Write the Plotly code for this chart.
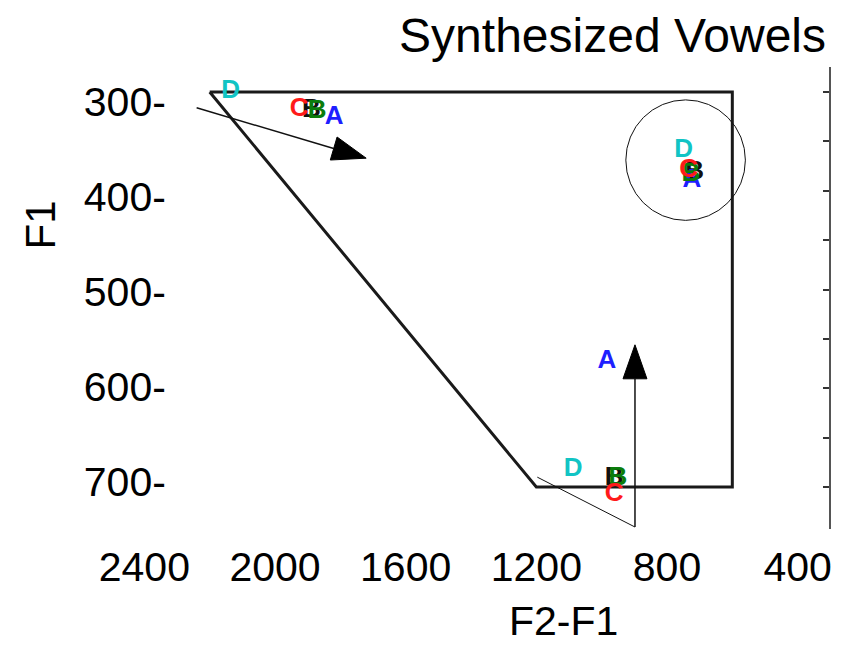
import math
import plotly.graph_objects as go

# ---------------- data ----------------
series_names = ["E", "A", "B", "C", "D"]
series_text = ["B", "A", "B", "C", "D"]
series_colors = ["#111111", "#1f1fff", "#0b7d0b", "#ff1a1a", "#11c4c4"]
# F2-F1 / F1 values (three vowel clusters each)
x_E = [1889, 715, 962]
y_E = [319, 382, 691]
x_A = [1819, 724, 984]
y_A = [326, 390, 573]
x_B = [1871, 727, 950]
y_B = [320, 384, 691]
x_C = [1926, 734, 962]
y_C = [318, 379, 708]
x_D = [2136, 749, 1087]
y_D = [300, 359, 682]
xs = [x_E, x_A, x_B, x_C, x_D]
ys = [y_E, y_A, y_B, y_C, y_D]

# vowel space outline
poly_x = [2200, 600, 600, 1200, 2200]
poly_y = [300, 300, 700, 700, 300]

# circle around cluster
circle_x = [560, 926]
circle_y = [308, 430]

# arrows (start -> tip)
arrow_start_x = [2240, 898]
arrow_start_y = [316, 740.5]
arrow_tip_x = [1721, 898]
arrow_tip_y = [367, 556]

# thin guide line
guide_x = [1197, 898]
guide_y = [690, 740.5]

x_tick_vals = [2400, 2000, 1600, 1200, 800, 400]
x_tick_text = ["2400", "2000", "1600", "1200", "800", "400"]
y_tick_vals = [300, 400, 500, 600, 700]
y_tick_text = ["300-", "400-", "500-", "600-", "700-"]

# ---------------- layout geometry ----------------
OFF = 8                      # page body margin
W, H = 843 - 2 * OFF, 648 - 2 * OFF
PL, PR, PT, PB = 130, 832, 67, 529   # plot area edges in page pixels
ML, MR, MT, MB = PL - OFF, W - (PR - OFF), PT - OFF, H - (PB - OFF)
X_RANGE = [2444, 304]
Y_RANGE = [742.5, 274.7]
Y_LABEL_RANGE = [749.5, 263.2]
pw = W - ML - MR
ph = H - MT - MB
sx = pw / (X_RANGE[0] - X_RANGE[1])   # px per unit (x reversed)
sy = ph / (Y_RANGE[0] - Y_RANGE[1])   # px per unit (y reversed)

FONT = "Liberation Sans, Arial, sans-serif"

fig = go.Figure()

# outline
fig.add_trace(go.Scatter(x=poly_x, y=poly_y, mode="lines",
                         line=dict(color="#1a1a1a", width=3),
                         hoverinfo="skip", showlegend=False))

# guide line
fig.add_trace(go.Scatter(x=guide_x, y=guide_y, mode="lines",
                         line=dict(color="#111111", width=1),
                         hoverinfo="skip", showlegend=False))

# arrows: shaft + filled head
HEAD_LEN, HEAD_HALF = 34, 12
for x0, y0, x1, y1 in zip(arrow_start_x, arrow_start_y, arrow_tip_x, arrow_tip_y):
    dxp = -(x1 - x0) * sx
    dyp = (y1 - y0) * sy
    L = math.hypot(dxp, dyp)
    ux, uy = dxp / L, dyp / L
    bxp, byp = -ux * HEAD_LEN, -uy * HEAD_LEN
    px_, py_ = -uy * HEAD_HALF, ux * HEAD_HALF

    def to_data(ddx, ddy):
        return x1 - ddx / sx, y1 + ddy / sy
    bx, by = to_data(bxp, byp)
    c1 = to_data(bxp + px_, byp + py_)
    c2 = to_data(bxp - px_, byp - py_)
    fig.add_trace(go.Scatter(x=[x0, bx], y=[y0, by], mode="lines",
                             line=dict(color="#111111", width=1.5),
                             hoverinfo="skip", showlegend=False))
    fig.add_trace(go.Scatter(x=[x1, c1[0], c2[0], x1], y=[y1, c1[1], c2[1], y1],
                             mode="lines", fill="toself", fillcolor="#000000",
                             line=dict(color="#000000", width=1),
                             hoverinfo="skip", showlegend=False))

# letter markers
for name, t, c, xv, yv in zip(series_names, series_text, series_colors, xs, ys):
    fig.add_trace(go.Scatter(x=xv, y=yv, mode="text", text=[t] * len(xv),
                             name=name, textposition="middle center",
                             textfont=dict(family=FONT, size=26, color=c, weight="bold"),
                             showlegend=False))

# invisible trace for label axis
fig.add_trace(go.Scatter(x=[1400] * len(y_tick_vals), y=y_tick_vals, yaxis="y2",
                         mode="markers", marker=dict(opacity=0),
                         hoverinfo="skip", showlegend=False))

fig.add_shape(type="circle", xref="x", yref="y",
              x0=circle_x[0], x1=circle_x[1], y0=circle_y[0], y1=circle_y[1],
              line=dict(color="#111111", width=1))

fig.update_layout(
    width=W, height=H, autosize=False,
    margin=dict(l=ML, r=MR, t=MT, b=MB, pad=0),
    plot_bgcolor="white", paper_bgcolor="white",
    showlegend=False,
    font=dict(family=FONT, color="#000000"),
    title=dict(text="Synthesized Vowels", x=(826 - OFF) / W, xanchor="right",
               y=1 - (35 - OFF) / H, yanchor="middle", xref="container",
               font=dict(family=FONT, size=48, color="#000000")),
    xaxis=dict(range=X_RANGE, tickmode="array", tickvals=x_tick_vals, ticktext=x_tick_text,
               showline=False, showgrid=False, zeroline=False, ticks="",
               tickfont=dict(family=FONT, size=41, color="#000000"),
               ticklabelstandoff=10),
    yaxis=dict(range=Y_RANGE, side="right", showline=True, linecolor="#555555", linewidth=2,
               ticks="inside", ticklen=6, tickwidth=2, tickcolor="#333333",
               tickmode="linear", tick0=300, dtick=50, showticklabels=False,
               showgrid=False, zeroline=False),
    yaxis2=dict(range=Y_LABEL_RANGE, overlaying="y", anchor="free",
                position=(166 - PL) / pw, side="left",
                tickmode="array", tickvals=y_tick_vals, ticktext=y_tick_text,
                showline=False, showgrid=False, zeroline=False, ticks="",
                tickfont=dict(family=FONT, size=41, color="#000000")),
    annotations=[
        dict(text="F2-F1", xref="paper", yref="paper",
             x=(565 - PL) / pw, y=-(621 - PB) / ph,
             xanchor="center", yanchor="middle", showarrow=False,
             font=dict(family=FONT, size=41, color="#000000")),
        dict(text="F1", xref="paper", yref="paper",
             x=(40 - PL) / pw, y=1 - (225 - PT) / ph,
             xanchor="center", yanchor="middle", textangle=-90, showarrow=False,
             font=dict(family=FONT, size=42, color="#000000")),
    ],
)

fig.write_html("out.html")
